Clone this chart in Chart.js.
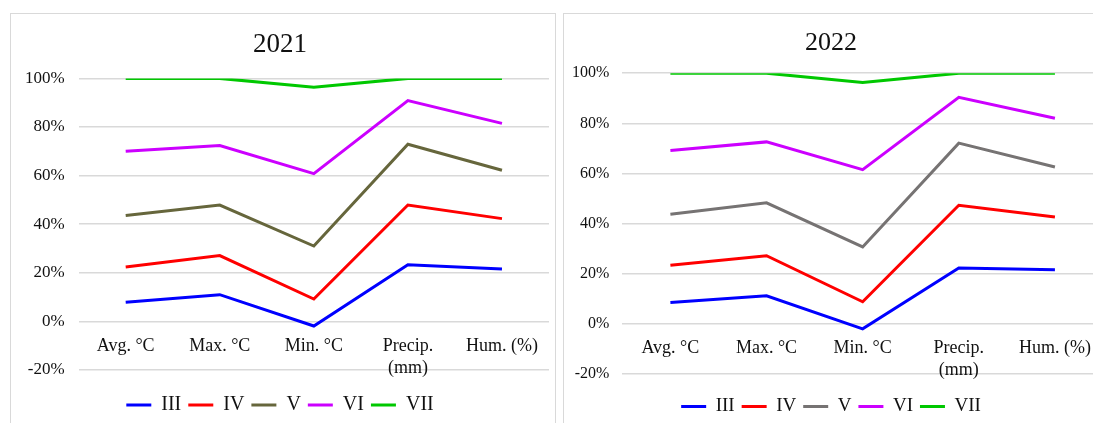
<!DOCTYPE html>
<html>
<head>
<meta charset="utf-8">
<script src="https://cdn.jsdelivr.net/npm/chart.js@4.4.1/dist/chart.umd.min.js"></script>
<style>
  html, body { margin: 0; padding: 0; background: #fff; overflow: hidden; width: 1093px; height: 423px; }
  .box { position: absolute; border: 1px solid #d9d9d9; background: #fff; }
  #box1 { left: 10px; top: 13px; width: 544px; height: 440px; }
  #box2 { left: 563px; top: 13px; width: 560px; height: 440px; }
  canvas { display: block; }
</style>
</head>
<body>
<div class="box" id="box1"><canvas id="chart2021" width="544" height="420"></canvas></div>
<div class="box" id="box2"><canvas id="chart2022" width="547" height="420"></canvas></div>
<script>
// categories and tick settings
const categories = ['Avg. °C', 'Max. °C', 'Min. °C', ['Precip.', '(mm)'], 'Hum. (%)'];
const seriesNames = ['III', 'IV', 'V', 'VI', 'VII'];
const yMin = -20, yMax = 100, yStep = 20;

// 2021 values (%)
const iii2021 = [7.9, 11.0, -1.9, 23.3, 21.6];
const iv2021 = [22.4, 27.1, 9.2, 47.9, 42.3];
const v2021 = [43.6, 47.9, 31.0, 72.9, 62.2];
const vi2021 = [70.0, 72.4, 60.8, 90.9, 81.5];
const vii2021 = [100, 100, 96.4, 100, 100];

// 2022 values (%)
const iii2022 = [8.5, 11.2, -2.0, 22.3, 21.6];
const iv2022 = [23.4, 27.2, 8.8, 47.3, 42.6];
const v2022 = [43.7, 48.3, 30.7, 72.1, 62.6];
const vi2022 = [69.2, 72.6, 61.5, 90.4, 82.0];
const vii2022 = [100, 100, 96.3, 100, 100];

const colors2021 = ['#0000ff', '#ff0000', '#66663c', '#cc00ff', '#00c800'];
const colors2022 = ['#0000ff', '#ff0000', '#767373', '#cc00ff', '#00c800'];

const serif = "'Liberation Serif', 'Times New Roman', serif";
const textColor = '#111';

function makeChart(id, title, series, colors, s) {
  const ctx = document.getElementById(id).getContext('2d');
  return new Chart(ctx, {
    type: 'line',
    data: {
      labels: categories,
      datasets: series.map((vals, i) => ({
        label: seriesNames[i],
        data: vals,
        borderColor: colors[i],
        backgroundColor: colors[i],
        borderWidth: 3,
        pointRadius: 0,
        tension: 0,
        fill: false
      }))
    },
    options: {
      responsive: false,
      animation: false,
      layout: { padding: { left: s.padLeft, right: s.padRight, top: 0, bottom: s.padBottom } },
      plugins: {
        title: {
          display: true,
          text: title,
          color: textColor,
          font: { family: serif, size: s.titleSize, weight: 'normal' },
          padding: { top: s.titleTop, bottom: s.titleBottom }
        },
        legend: {
          position: 'bottom',
          title: { display: true, text: '', font: { size: 10 }, padding: { top: s.legendGap, bottom: 0 } },
          labels: {
            usePointStyle: true,
            pointStyle: 'line',
            pointStyleWidth: 25,
            boxHeight: 4,
            padding: 7,
            color: textColor,
            font: { family: serif, size: s.legendSize }
          }
        },
        tooltip: { enabled: false }
      },
      scales: {
        x: {
          type: 'category',
          offset: true,
          position: { y: 0 },
          grid: { display: false, drawTicks: false },
          border: { display: false },
          ticks: {
            autoSkip: false,
            maxRotation: 0,
            padding: 14,
            color: textColor,
            font: { family: serif, size: 18 }
          }
        },
        y: {
          min: yMin,
          max: yMax,
          grid: { color: '#d9d9d9', lineWidth: 1.5, drawTicks: false },
          border: { display: false },
          ticks: {
            stepSize: yStep,
            padding: s.tickPad,
            color: textColor,
            font: { family: serif, size: s.yTickSize },
            callback: v => v + '%'
          }
        }
      }
    }
  });
}

makeChart('chart2021', '2021', [iii2021, iv2021, v2021, vi2021, vii2021], colors2021, {
  padLeft: 0, padRight: 6, padBottom: 9,
  titleSize: 27, titleTop: 15, titleBottom: 17,
  legendSize: 20, legendGap: 6, yTickSize: 17, tickPad: 14
});

makeChart('chart2022', '2022', [iii2022, iv2022, v2022, vi2022, vii2022], colors2022, {
  padLeft: -5, padRight: 8, padBottom: 8,
  titleSize: 26, titleTop: 14, titleBottom: 14,
  legendSize: 19, legendGap: 4, yTickSize: 16, tickPad: 13
});
</script>
</body>
</html>
